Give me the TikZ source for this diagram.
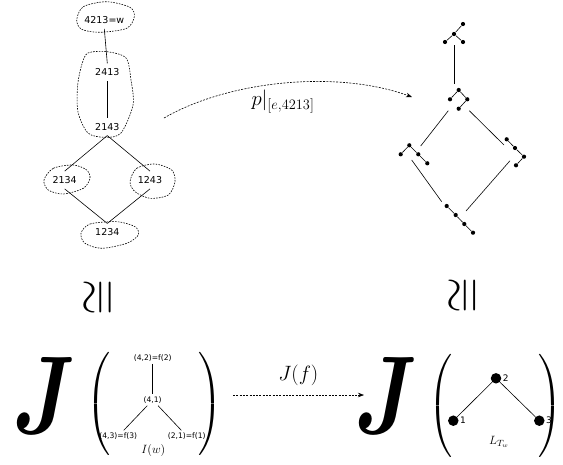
\documentclass[tikz,border=0pt]{standalone}
\usepackage{fontspec}
\usepackage{amsmath,amssymb,bm}
\usepackage{graphicx}
\newfontfamily\lblfont{DejaVu Sans}
\usetikzlibrary{arrows.meta}

\tikzset{
  perm/.style={font=\lblfont\fontsize{9.5}{11}\selectfont, inner sep=5pt},
  ideal/.style={font=\lblfont\fontsize{7.6}{9}\selectfont, inner sep=2pt},
  blob/.style={dash pattern=on 1.6pt off 1.2pt, line width=0.6pt},
  tdot/.style={circle, fill, inner sep=0pt, minimum size=4.2pt},
  bigdot/.style={circle, fill, inner sep=0pt, minimum size=10.5pt},
  mapto/.style={dash pattern=on 2pt off 1.3pt, line width=0.6pt, -{Stealth[length=6pt,width=4.5pt]}},
  bigJ/.style={inner sep=0pt},
  paren/.style={inner sep=0pt},
  iso/.style={inner sep=0pt}
}

\newcommand{\bigJsym}{\resizebox*{63pt}{76pt}{$\bm{J}$}}
\newcommand{\lpar}{\resizebox*{24pt}{108pt}{$\left(\vcenter{\hbox{\rule{0pt}{38pt}}}\right.\kern-\nulldelimiterspace$}}
\newcommand{\rpar}{\resizebox*{24pt}{108pt}{$\kern-\nulldelimiterspace\left.\vcenter{\hbox{\rule{0pt}{38pt}}}\right)$}}
\newcommand{\isosym}{\rotatebox{90}{\resizebox*{36pt}{33pt}{$\cong$}}}

\begin{document}
\begin{tikzpicture}[x=1pt, y=-1pt, line width=0.6pt]
    \useasboundingbox (0,0) rectangle (563,464);

    % Dessiner le treillis des permutations
    \node[perm] (w)     at (104.3,20)   {4213=w};
    \node[perm] (p2413) at (107.3,72.3) {2413};
    \node[perm] (p2143) at (107.3,126.7) {2143};
    \node[perm] (p2134) at (64.7,180)   {2134};
    \node[perm] (p1243) at (150,180)    {1243};
    \node[perm] (p1234) at (107.3,232.3) {1234};
    \draw (w.south) -- (p2413.north);
    \draw (p2413.south) -- (p2143.north);
    \draw (p2143.south) -- (p2134.north);
    \draw (p2143.south) -- (p1243.north);
    \draw (p2134.south) -- (p1234.north);
    \draw (p1243.south) -- (p1234.north);

    % Dessiner les bulles (classes)
    \draw[blob] plot[smooth cycle] coordinates {(76.7,20) (83.3,6.7) (106.7,1.7) (130,7.3)
        (134.3,16.7) (126.7,28.3) (100,32.3) (81.7,29.3)};
    \draw[blob] plot[smooth cycle] coordinates {(88,53) (107,51.7) (126,58) (131,80)
        (133,105) (121,133) (105,137.3) (88,133) (78,112) (77.7,85) (82,64)};
    \draw[blob] plot[smooth cycle] coordinates {(44,180) (53.3,168.3) (73.3,165) (86.7,170)
        (90,178.3) (83.3,188.3) (63.3,194) (48.3,190)};
    \draw[blob] plot[smooth cycle] coordinates {(130,181.7) (136.7,168.3) (155,164) (171.7,170)
        (175,181.7) (168.3,195) (150,198.3) (135,191.7)};
    \draw[blob] plot[smooth cycle] coordinates {(81,233.3) (90,224) (116.7,221.7) (135,226.7)
        (138.3,235) (126.7,243.3) (101.7,248.3) (85,243.3)};

    % Dessiner le treillis des arbres
    \node[tdot] (ta1) at (463,24) {};
    \node[tdot] (ta2) at (454,34) {};
    \node[tdot] (ta3) at (445,42) {};
    \node[tdot] (ta4) at (463,42) {};
    \draw (ta1) -- (ta2) (ta2) -- (ta3) (ta2) -- (ta4);

    \node[tdot] (tb1) at (458.7,90) {};
    \node[tdot] (tb2) at (450,99.3) {};
    \node[tdot] (tb3) at (467.3,99.3) {};
    \node[tdot] (tb4) at (458.7,108.7) {};
    \draw (tb1) -- (tb2) (tb1) -- (tb3) (tb3) -- (tb4);

    \node[tdot] (tc1) at (409.3,145.3) {};
    \node[tdot] (tc2) at (400.7,154.3) {};
    \node[tdot] (tc3) at (418.3,154.3) {};
    \node[tdot] (tc4) at (427.3,163.3) {};
    \draw (tc1) -- (tc2) (tc1) -- (tc3) (tc3) -- (tc4);

    \node[tdot] (td1) at (506.7,139.3) {};
    \node[tdot] (td2) at (515,148) {};
    \node[tdot] (td3) at (524,156.7) {};
    \node[tdot] (td4) at (516,165.3) {};
    \draw (td1) -- (td2) (td2) -- (td3) (td3) -- (td4);

    \node[tdot] (te1) at (446.7,206) {};
    \node[tdot] (te2) at (455.7,215) {};
    \node[tdot] (te3) at (464.3,224) {};
    \node[tdot] (te4) at (473,232.7) {};
    \draw (te1) -- (te2) -- (te3) -- (te4);

    % Les aretes entre les arbres
    \coordinate (ab1) at (454,45);   \coordinate (ab2) at (454,84);
    \coordinate (bc1) at (448.3,110.7); \coordinate (bc2) at (420.7,146);
    \coordinate (bd1) at (469.3,110.7); \coordinate (bd2) at (504,145);
    \coordinate (ce1) at (411.7,160); \coordinate (ce2) at (441.7,201.7);
    \coordinate (de1) at (510,160.7); \coordinate (de2) at (466,211);
    \draw (ab1) -- (ab2);
    \draw (bc1) -- (bc2);
    \draw (bd1) -- (bd2);
    \draw (ce1) -- (ce2);
    \draw (de1) -- (de2);

    % La fleche courbe
    \coordinate (pstart) at (164,118);
    \coordinate (pend) at (412,97);
    \draw[mapto] (pstart) .. controls (230,80) and (338,70) .. (pend);
    \node[font=\fontsize{21}{24}\selectfont] (plabel) at (283,101.7) {$p|_{[e,4213]}$};

    % Les isomorphismes
    \node[iso] (isoL) at (100.5,297.5) {\isosym};
    \node[iso] (isoR) at (465,295) {\isosym};

    % Le J de gauche
    \node[bigJ] (jL) at (44,395) {\bigJsym};
    \node[paren] (lpL) at (98,404) {\lpar};
    \node[paren] (rpL) at (210.5,404) {\rpar};
    \node[ideal] (n42) at (152.7,358.3) {(4,2)=f(2)};
    \node[ideal] (n41) at (152.7,400) {(4,1)};
    \node[ideal] (n43) at (118.3,436) {(4,3)=f(3)};
    \node[ideal] (n21) at (186.7,436) {(2,1)=f(1)};
    \draw (n42) -- (n41);
    \draw (n41) -- (n43);
    \draw (n41) -- (n21);
    \node[font=\fontsize{11.5}{13}\selectfont] (iw) at (153.3,450.7) {$I(w)$};

    % La fleche J(f)
    \node[font=\fontsize{21}{24}\selectfont] (jf) at (298.3,375) {$J(f)$};
    \coordinate (fstart) at (233,395);
    \coordinate (fend) at (364,395);
    \draw[mapto] (fstart) -- (fend);

    % Le J de droite
    \node[bigJ] (jR) at (386,395) {\bigJsym};
    \node[paren] (lpR) at (440.5,406) {\lpar};
    \node[paren, anchor=east] (rpR) at (563,406) {\rpar};
    \node[bigdot] (v2) at (496,378.3) {};
    \node[bigdot] (v1) at (453.3,420.7) {};
    \node[bigdot] (v3) at (539.3,420.7) {};
    \draw (v2) -- (v1);
    \draw (v2) -- (v3);
    \node[font=\lblfont\fontsize{9}{10}\selectfont, anchor=west, inner sep=1pt] (l2) at (v2.east) {2};
    \node[font=\lblfont\fontsize{9}{10}\selectfont, anchor=west, inner sep=1pt] (l1) at (v1.east) {1};
    \node[font=\lblfont\fontsize{9}{10}\selectfont, anchor=west, inner sep=1pt] (l3) at (v3.east) {3};
    \node[font=\fontsize{13}{15}\selectfont] (ltw) at (499,441.7) {$L_{T_w}$};
\end{tikzpicture}
\end{document}
